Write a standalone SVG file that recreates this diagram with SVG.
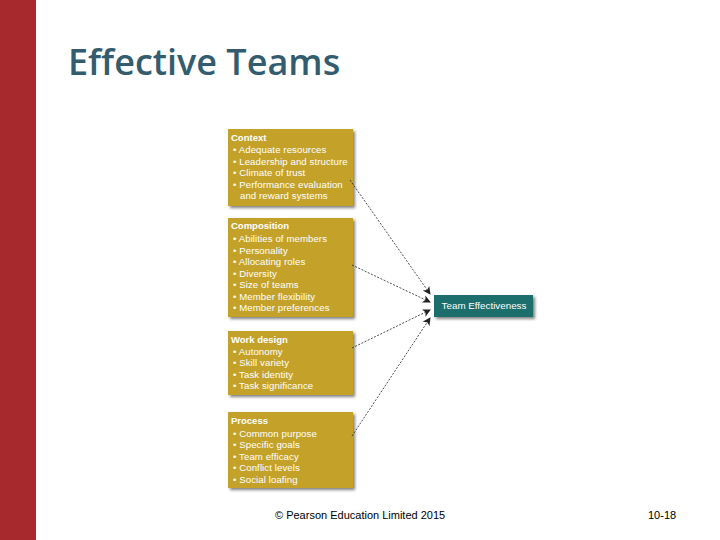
<svg xmlns="http://www.w3.org/2000/svg" width="720" height="540" viewBox="0 0 720 540">
<defs>
<marker id="ah" markerWidth="8" markerHeight="8" refX="7" refY="4" orient="auto" markerUnits="userSpaceOnUse">
<path d="M0,0 L8,4 L0,8 L2,4 Z" fill="#222"/>
</marker>
<filter id="sh" x="-10%" y="-10%" width="125%" height="125%">
<feGaussianBlur in="SourceAlpha" stdDeviation="1.5"/>
<feOffset dx="2" dy="2" result="b"/>
<feComponentTransfer><feFuncA type="linear" slope="0.5"/></feComponentTransfer>
<feMerge><feMergeNode/><feMergeNode in="SourceGraphic"/></feMerge>
</filter>
</defs>
<style>
.box{fill:#C4A22C;filter:url(#sh)}
.hd{font-family:"Liberation Sans",Arial,sans-serif;font-size:9.5px;font-weight:bold;fill:#fff}
.it{font-family:"Liberation Sans",Arial,sans-serif;font-size:9.6px;letter-spacing:0.1px;fill:#fff}
.con{stroke:#222;stroke-width:0.8;stroke-dasharray:2,1.5;fill:none;marker-end:url(#ah)}
.ft{font-family:"Liberation Sans",Arial,sans-serif;font-size:11px;fill:#000}
</style>
<rect width="720" height="540" fill="#fff"/>
<rect x="0" y="0" width="36" height="540" fill="#A8292D"/>
<text x="68" y="75" font-family="'Open Sans',sans-serif" font-weight="600" font-size="36" fill="#335D6E">Effective Teams</text>

<g id="context">
<rect class="box" x="228" y="129" width="125" height="77"/>
<text class="hd" x="231" y="141">Context</text>
<text class="it" x="233" y="153">• Adequate resources</text>
<text class="it" x="233" y="165">• Leadership and structure</text>
<text class="it" x="233" y="176">• Climate of trust</text>
<text class="it" x="233" y="188">• Performance evaluation</text>
<text class="it" x="240" y="199">and reward systems</text>
</g>
<g id="composition">
<rect class="box" x="228" y="218" width="125" height="99"/>
<text class="hd" x="231" y="229">Composition</text>
<text class="it" x="233" y="242">• Abilities of members</text>
<text class="it" x="233" y="254">• Personality</text>
<text class="it" x="233" y="265">• Allocating roles</text>
<text class="it" x="233" y="277">• Diversity</text>
<text class="it" x="233" y="288">• Size of teams</text>
<text class="it" x="233" y="300">• Member flexibility</text>
<text class="it" x="233" y="311">• Member preferences</text>
</g>
<g id="workdesign">
<rect class="box" x="228" y="331" width="125" height="64"/>
<text class="hd" x="231" y="343">Work design</text>
<text class="it" x="233" y="355">• Autonomy</text>
<text class="it" x="233" y="366">• Skill variety</text>
<text class="it" x="233" y="378">• Task identity</text>
<text class="it" x="233" y="389">• Task significance</text>
</g>
<g id="process">
<rect class="box" x="228" y="412" width="125" height="76"/>
<text class="hd" x="231" y="424">Process</text>
<text class="it" x="233" y="437">• Common purpose</text>
<text class="it" x="233" y="448">• Specific goals</text>
<text class="it" x="233" y="460">• Team efficacy</text>
<text class="it" x="233" y="471">• Conflict levels</text>
<text class="it" x="233" y="483">• Social loafing</text>
</g>
<g id="team">
<rect x="434" y="295" width="99" height="22" fill="#1B6E6C" filter="url(#sh)"/>
<text x="484" y="309" text-anchor="middle" font-family="'Liberation Sans',Arial,sans-serif" font-size="9.8" fill="#fff">Team Effectiveness</text>
</g>
<g id="connectors">
<line class="con" x1="350" y1="180" x2="430" y2="294"/>
<line class="con" x1="352" y1="265" x2="430" y2="302"/>
<line class="con" x1="352" y1="348" x2="430" y2="310"/>
<line class="con" x1="352" y1="436" x2="430" y2="318"/>
</g>
<text class="ft" x="275" y="519">© Pearson Education Limited 2015</text>
<text class="ft" x="648" y="519">10-18</text>
</svg>
